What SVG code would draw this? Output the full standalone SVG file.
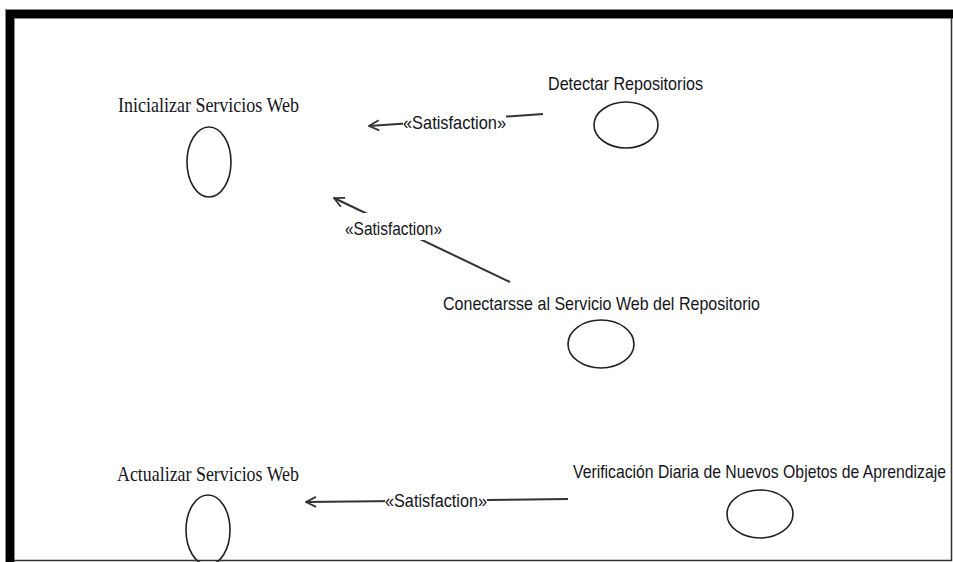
<svg xmlns="http://www.w3.org/2000/svg" width="953" height="562" viewBox="0 0 953 562">
<style>
.serif{font-family:"Liberation Serif","Times New Roman",serif;font-size:22px;fill:#141420}
.sans{font-family:"Liberation Sans",Arial,sans-serif;font-size:19px;fill:#141420}
.uc{fill:none;stroke:#222;stroke-width:1.6}
.conn{fill:none;stroke:#333;stroke-width:2}
.lbl{font-family:"Liberation Sans",Arial,sans-serif;font-size:19px;fill:#141420}
</style>
<defs>
<marker id="open" viewBox="0 0 12 12" refX="11" refY="6" markerWidth="12" markerHeight="12" markerUnits="userSpaceOnUse" orient="auto">
<polyline points="1,1 11,6 1,11" fill="none" stroke="#333" stroke-width="1.8"/>
</marker>
</defs>
<rect x="0" y="0" width="953" height="562" fill="#ffffff"/>
<g id="frame">
<rect x="5" y="9" width="948" height="10" fill="#888"/>
<rect x="5" y="9" width="10" height="553" fill="#888"/>
<rect x="6" y="10" width="947" height="8" fill="#000"/>
<rect x="6" y="10" width="8" height="552" fill="#000"/>
<line x1="951.5" y1="18" x2="951.5" y2="561" stroke="#333" stroke-width="1.5"/>
<line x1="14" y1="560.5" x2="952" y2="560.5" stroke="#333" stroke-width="1.5"/>
</g>
<g id="connectors">
<g id="c1">
<line class="conn" x1="543" y1="114" x2="369" y2="126" marker-end="url(#open)"/>
<rect x="403" y="110" width="103" height="22" fill="#fff"/>
<text class="lbl" x="403" y="129" textLength="103" lengthAdjust="spacingAndGlyphs">«Satisfaction»</text>
</g>
<g id="c2">
<line class="conn" x1="510" y1="282" x2="334" y2="198" marker-end="url(#open)"/>
<rect x="345" y="213" width="98" height="27" fill="#fff"/>
<text class="lbl" x="345" y="235" textLength="97" lengthAdjust="spacingAndGlyphs">«Satisfaction»</text>
</g>
<g id="c3">
<line class="conn" x1="568" y1="499" x2="306" y2="502" marker-end="url(#open)"/>
<rect x="385" y="489" width="102" height="22" fill="#fff"/>
<text class="lbl" x="385" y="507" textLength="102" lengthAdjust="spacingAndGlyphs">«Satisfaction»</text>
</g>
</g>
<g id="inicializar">
<text class="serif" x="118" y="112" textLength="181" lengthAdjust="spacingAndGlyphs">Inicializar Servicios Web</text>
<ellipse class="uc" cx="209" cy="162" rx="22" ry="35"/>
</g>
<g id="detectar">
<text class="sans" x="548" y="90" textLength="155" lengthAdjust="spacingAndGlyphs">Detectar Repositorios</text>
<ellipse class="uc" cx="626" cy="125" rx="32" ry="23"/>
</g>
<g id="conectarsse">
<text class="sans" x="443" y="310" textLength="317" lengthAdjust="spacingAndGlyphs">Conectarsse al Servicio Web del Repositorio</text>
<ellipse class="uc" cx="601" cy="344" rx="33" ry="24"/>
</g>
<g id="actualizar">
<text class="serif" x="117" y="481" textLength="182" lengthAdjust="spacingAndGlyphs">Actualizar Servicios Web</text>
<ellipse class="uc" cx="208" cy="530" rx="22" ry="35"/>
</g>
<g id="verificacion">
<text class="sans" x="573" y="478" textLength="373" lengthAdjust="spacingAndGlyphs">Verificación Diaria de Nuevos Objetos de Aprendizaje</text>
<ellipse class="uc" cx="760" cy="514" rx="33" ry="24"/>
</g>
</svg>
